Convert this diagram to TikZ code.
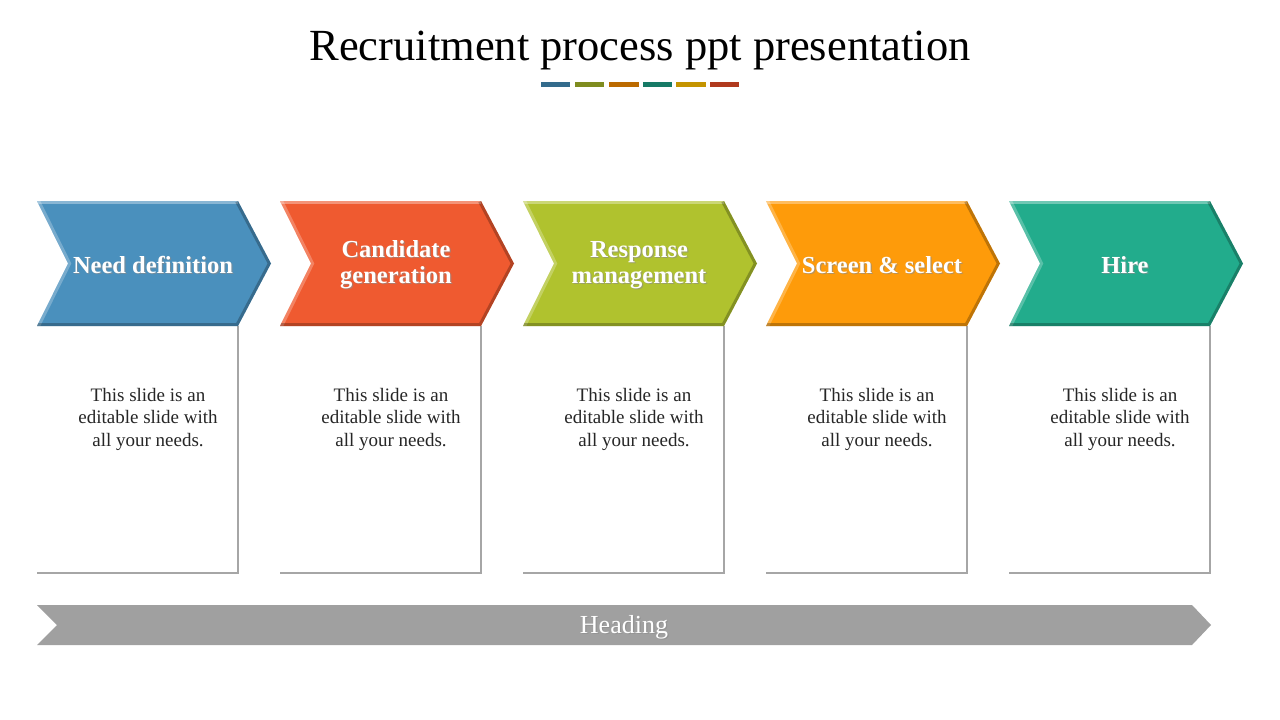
\documentclass[tikz,border=0pt]{standalone}
\usepackage{fontspec}
\setmainfont{Liberation Serif}
\definecolor{cA}{HTML}{4A90BD}
\definecolor{cB}{HTML}{EF5A30}
\definecolor{cC}{HTML}{B0C22E}
\definecolor{cD}{HTML}{FE9B0A}
\definecolor{cE}{HTML}{22AC8C}
\definecolor{bA}{HTML}{336B8C}
\definecolor{bB}{HTML}{7F8C1F}
\definecolor{bC}{HTML}{BB6A00}
\definecolor{bD}{HTML}{167A66}
\definecolor{bE}{HTML}{C49400}
\definecolor{bF}{HTML}{B03A1E}
\definecolor{boxline}{HTML}{A6A6A6}
\definecolor{headgray}{HTML}{A0A0A0}
\tikzset{
  titletext/.style={font=\fontsize{44.5}{48}\selectfont, text=black},
  chevtext/.style={font=\fontsize{24.5}{26}\selectfont\bfseries, text=white, align=center},
  bodytext/.style={font=\fontsize{19}{22.5}\selectfont, text=black!85, align=center},
  headtext/.style={font=\fontsize{26}{28}\selectfont, text=white},
  shadowtext/.style={text=black!45, opacity=0.6},
  boxstroke/.style={draw=boxline, line width=2.2pt},
  colorbar/.style={line width=5pt},
}
\begin{document}
\begin{tikzpicture}[x=1pt,y=-1pt]
\useasboundingbox (0,0) rectangle (1280,720);
\fill[white] (0,0) rectangle (1280,720);
% title
\node[titletext] (title) at (640,51) {Recruitment process ppt presentation};
% colour bars
\draw[colorbar, bA] (541,84.5) -- (570,84.5);
\draw[colorbar, bB] (575,84.5) -- (604,84.5);
\draw[colorbar, bC] (609,84.5) -- (639,84.5);
\draw[colorbar, bD] (643,84.5) -- (672,84.5);
\draw[colorbar, bE] (676,84.5) -- (706,84.5);
\draw[colorbar, bF] (710,84.5) -- (739,84.5);
% stages
\foreach \i/\col/\lab in {0/cA/{Need definition},1/cB/{Candidate\\generation},2/cC/{Response\\management},3/cD/{Screen \& select},4/cE/{Hire}}{
  \pgfmathsetmacro{\xo}{37+243*\i}
  % box lines
  \draw[boxstroke] (\xo+201,326) -- (\xo+201,573) -- (\xo,573);
  % chevron
  \fill[\col] (\xo,201) -- (\xo+201,201) -- (\xo+234,263.5) -- (\xo+201,326) -- (\xo,326) -- (\xo+31,263.5) -- cycle;
  \begin{scope}
    \clip (\xo,201) -- (\xo+201,201) -- (\xo+234,263.5) -- (\xo+201,326) -- (\xo,326) -- (\xo+31,263.5) -- cycle;
    \draw[white, opacity=0.35, line width=6pt] (\xo,201) -- (\xo+201,201);
    \draw[white, opacity=0.25, line width=6pt] (\xo,201) -- (\xo+31,263.5) -- (\xo,326);
    \draw[black, opacity=0.25, line width=6pt] (\xo+201,201) -- (\xo+234,263.5) -- (\xo+201,326) -- (\xo,326);
  \end{scope}
  \node[chevtext, shadowtext] at (\xo+117.2,266.2) {\lab};
  \node[chevtext] (chev\i) at (\xo+116,265) {\lab};
  \node[bodytext] (body\i) at (\xo+111,419) {This slide is an\\editable slide with\\all your needs.};
}
% heading arrow
\fill[headgray] (37,605) -- (1192,605) -- (1211,625) -- (1192,645) -- (37,645) -- (57,625) -- cycle;
\node[headtext, shadowtext] at (625.2,628.7) {Heading};
\node[headtext] (heading) at (624,627.5) {Heading};
\end{tikzpicture}
\end{document}
